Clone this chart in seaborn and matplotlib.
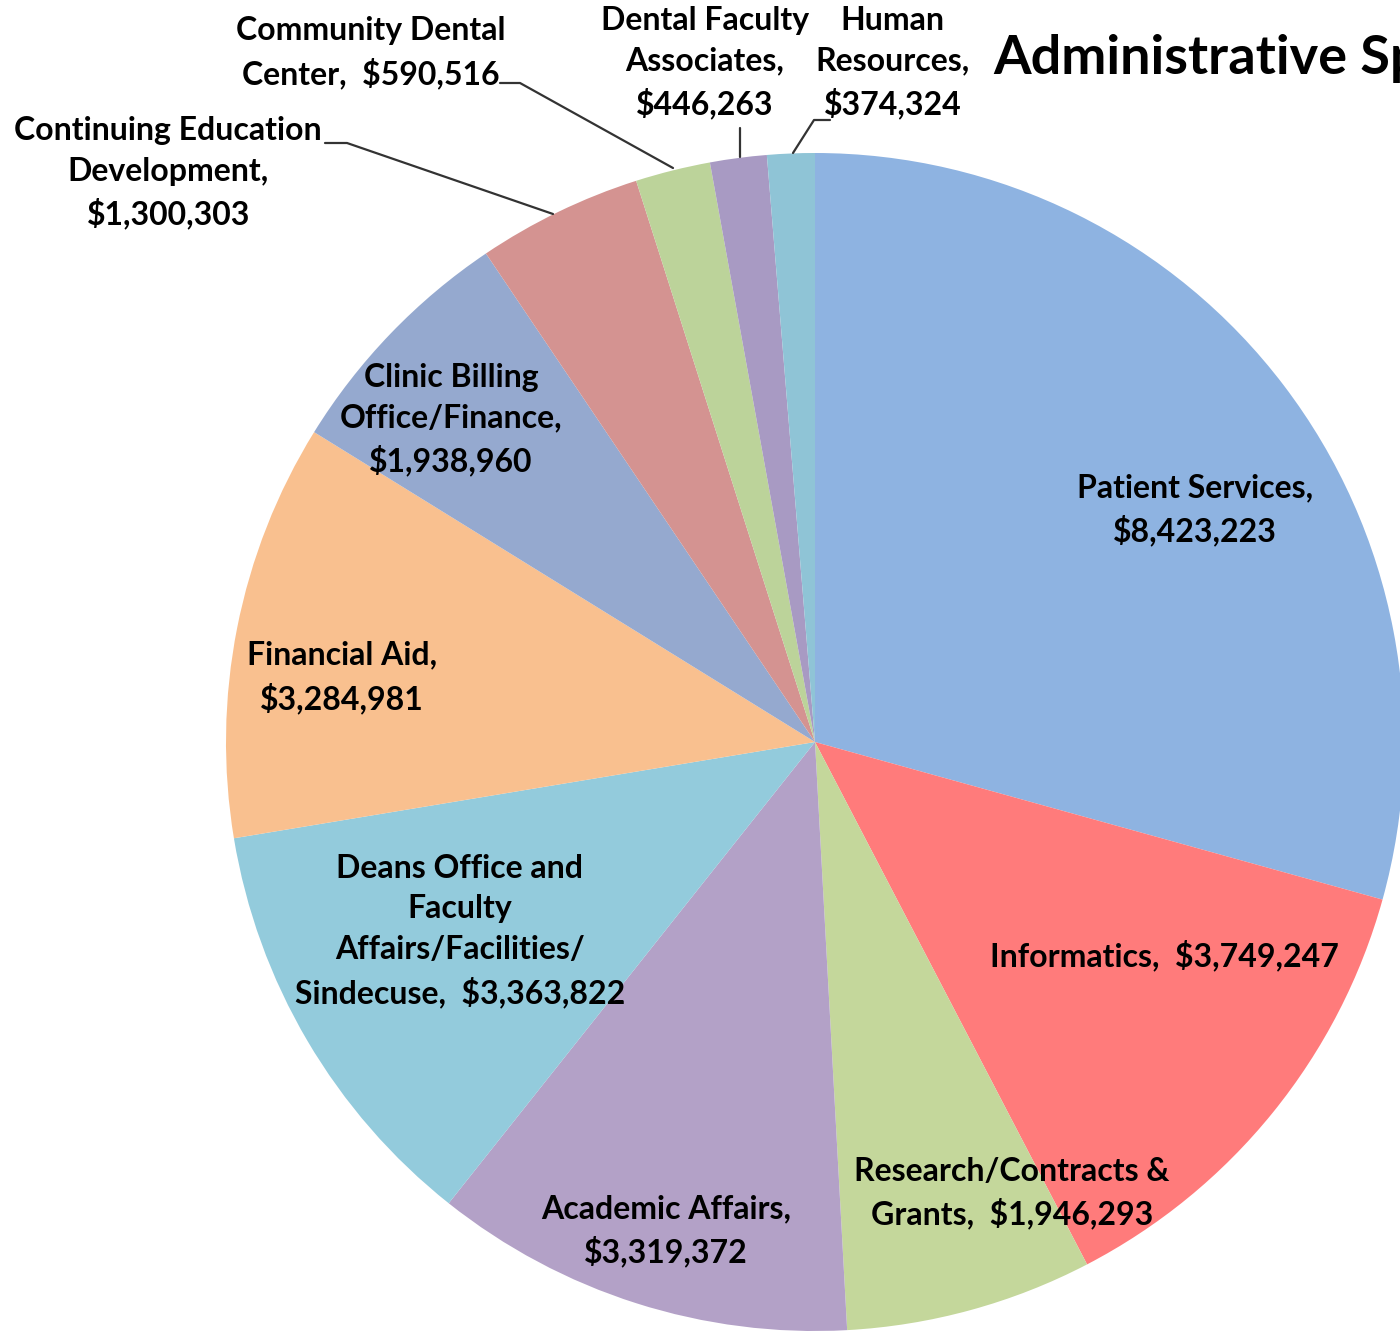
import matplotlib
matplotlib.use("Agg")
import matplotlib.pyplot as plt
import seaborn as sns

sns.set_theme(style="white")
plt.rcParams["font.family"] = ["Lato", "DejaVu Sans"]

# Administrative spending by unit
categories = [
    "Patient Services",
    "Informatics",
    "Research/Contracts &\nGrants",
    "Academic Affairs",
    "Deans Office and\nFaculty\nAffairs/Facilities/\nSindecuse",
    "Financial Aid",
    "Clinic Billing\nOffice/Finance",
    "Continuing Education\nDevelopment",
    "Community Dental\nCenter",
    "Dental Faculty\nAssociates",
    "Human\nResources",
]
values = [8423223, 3749247, 1946293, 3319372, 3363822, 3284981,
          1938960, 1300303, 590516, 446263, 374324]
colors = ["#8EB3E1", "#FF7B7B", "#C4D79B", "#B3A1C7", "#93CBDC", "#F9C08F",
          "#95A9CF", "#D49391", "#BCD39A", "#A89AC3", "#8FC4D6"]

# label text layout: (x, y) in pie units, and how name and value are joined
label_pos = [
    (0.645, 0.394), (0.594, -0.362), (0.334, -0.766), (-0.253, -0.830),
    (-0.603, -0.321), (-0.803, 0.110), (-0.618, 0.547), (-1.098, 0.966),
    (-0.755, 1.170), (-0.187, 1.153), (0.132, 1.153),
]
joiners = [",\n", ",  ", ",  ", ",\n", ",  ", ",\n", ",\n", ",\n", ",  ", ",\n", ",\n"]

fig = plt.figure(figsize=(14, 13.31), dpi=100)
cx, cy, R = 815, 742, 589
W, H = 1400, 1331
ax = fig.add_axes([(cx - R) / W, (H - cy - R) / H, 2 * R / W, 2 * R / H])
ax.pie(values, colors=colors, startangle=90, counterclock=False, radius=1,
       wedgeprops=dict(linewidth=0))
ax.set_xlim(-1, 1)
ax.set_ylim(-1, 1)
ax.set_aspect("equal")
ax.axis("off")

for name, val, (x, y), j in zip(categories, values, label_pos, joiners):
    ax.text(x, y, f"{name}{j}${val:,.0f}", ha="center", va="center",
            fontsize=23, fontweight="bold", linespacing=1.47, color="#000000",
            clip_on=False)

# leader lines for the small outer slices
def px(xp, yp):
    return ((xp - cx) / R, (cy - yp) / R)

leaders = [
    [(325, 143), (347, 143), (553, 214)],
    [(500, 83), (520, 83), (673, 168)],
    [(740, 128), (740, 157)],
    [(830, 120), (814, 120), (793, 153)],
]
for pts in leaders:
    xs, ys = zip(*[px(a, b) for a, b in pts])
    ax.plot(xs, ys, color="#333333", lw=1.6, clip_on=False)

fig.text(993 / W, 1 - 58 / H, "Administrative Spending", fontsize=39,
         fontweight="bold", ha="left", va="center", color="#000000")

fig.savefig("out.png", dpi=100)
